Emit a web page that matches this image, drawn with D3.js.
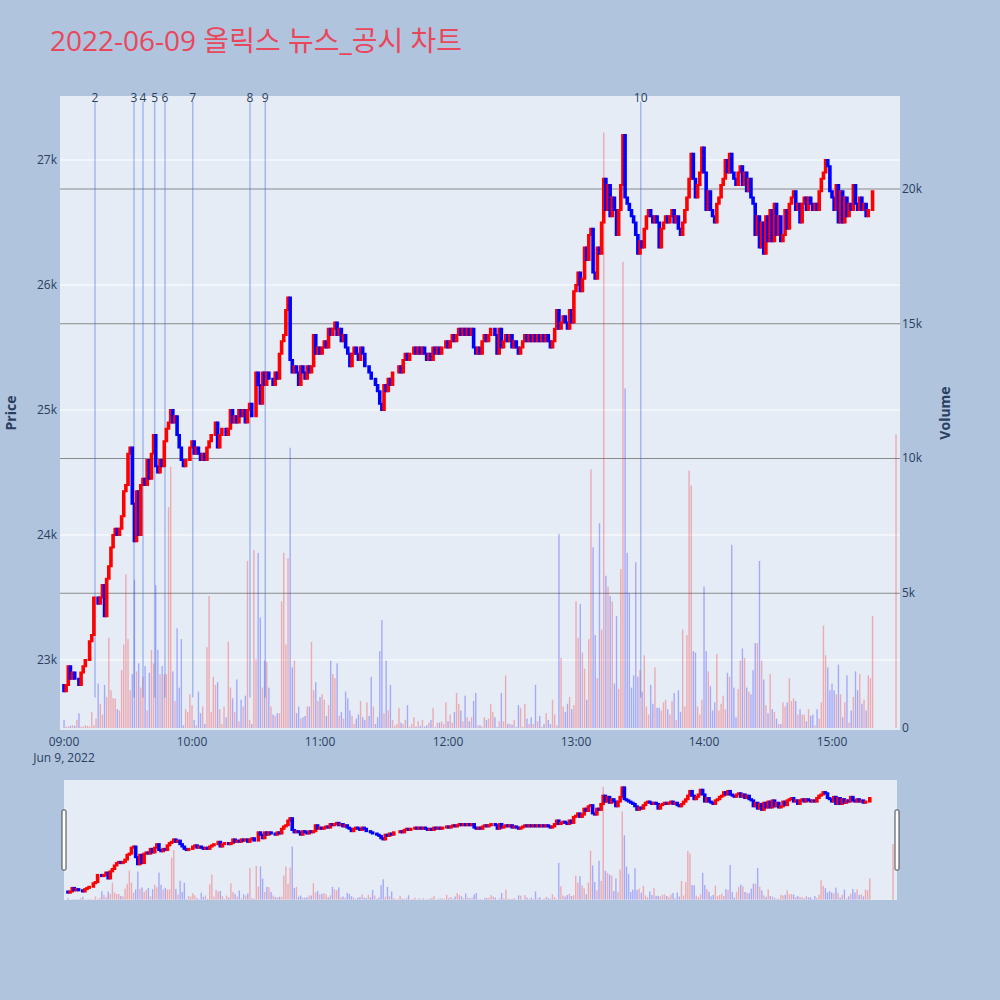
<!DOCTYPE html>
<html>
<head>
<meta charset="utf-8">
<script src="https://cdn.jsdelivr.net/npm/d3@7"></script>
<style>
  html, body { margin: 0; padding: 0; background: #b0c4de; }
  svg { display: block; font-family: "Open Sans", "Noto Sans CJK KR", sans-serif; }
</style>
</head>
<body>
<div id="chart"></div>
<script>
// chart data
const chartTitle = "2022-06-09 올릭스 뉴스_공시 차트";
const sessionDate = "2022-06-09";
const firstOpen = 22800;

// 1-minute closes from 09:00 to 15:19 (open taken as previous close)
const closes = [
  22750,22800,22950,22850,22900,22850,22850,22800,22900,22950,
  23000,23000,23150,23200,23500,23500,23450,23500,23600,23350,
  23650,23750,23900,24000,24050,24000,24050,24150,24350,24400,
  24650,24700,24250,23950,24350,24000,24400,24450,24400,24600,
  24450,24650,24800,24550,24500,24600,24550,24750,24850,24900,
  25000,24900,24950,24800,24700,24600,24550,24600,24600,24700,
  24750,24650,24700,24650,24600,24650,24600,24700,24750,24800,
  24800,24900,24700,24800,24850,24850,24800,24850,25000,24900,
  24950,24900,25000,24950,25000,24900,25000,25050,24950,24950,
  25300,25200,25050,25300,25200,25300,25250,25250,25200,25300,
  25250,25450,25550,25600,25800,25900,25400,25300,25350,25300,
  25200,25350,25300,25250,25350,25300,25350,25600,25450,25500,
  25450,25500,25550,25500,25650,25600,25650,25700,25600,25650,
  25550,25600,25500,25450,25350,25450,25500,25450,25400,25500,
  25450,25350,25350,25300,25250,25250,25200,25150,25050,25000,
  25200,25150,25250,25200,25300,25300,25300,25350,25300,25400,
  25450,25400,25450,25450,25500,25450,25500,25450,25500,25450,
  25400,25450,25400,25500,25450,25500,25450,25500,25500,25550,
  25500,25550,25600,25550,25600,25650,25600,25650,25600,25650,
  25600,25650,25500,25450,25500,25450,25550,25600,25550,25600,
  25650,25650,25600,25450,25650,25500,25550,25600,25550,25600,
  25500,25550,25500,25450,25500,25550,25600,25550,25600,25550,
  25600,25550,25600,25550,25600,25550,25600,25550,25500,25550,
  25650,25800,25650,25700,25750,25700,25650,25800,25700,25950,
  26000,26100,25950,26050,26300,26200,26400,26450,26100,26050,
  26300,26250,26500,26850,26600,26800,26550,26700,26600,26400,
  26600,26800,27200,26700,26650,26600,26550,26500,26400,26250,
  26350,26300,26450,26550,26600,26550,26500,26550,26500,26300,
  26450,26500,26550,26500,26550,26600,26500,26550,26450,26400,
  26500,26600,26700,26850,27050,26850,26700,26800,26900,27100,
  26900,26600,26750,26600,26550,26500,26650,26700,26800,26850,
  27000,26900,27050,26900,26850,26800,26900,26950,26800,26900,
  26750,26850,26700,26650,26400,26550,26300,26500,26250,26550,
  26350,26600,26350,26650,26400,26550,26350,26400,26600,26450,
  26650,26700,26750,26600,26650,26500,26650,26700,26600,26700,
  26650,26600,26650,26600,26750,26850,26900,27000,26950,26750,
  26700,26600,26800,26500,26750,26500,26700,26550,26650,26600,
  26800,26650,26600,26700,26600,26650,26550,26600,26600,26750
];

// 1-minute volumes, same minutes
const volumes = [
  300,50,50,80,100,80,300,550,50,50,
  100,80,50,600,100,350,1650,900,500,1600,
  1150,3350,1400,1100,1100,700,650,2150,3100,5700,
  3300,1400,2000,5500,2100,2400,1500,1900,2300,650,
  2050,2900,2400,5300,2900,2000,2300,2000,2000,8200,
  9700,2100,1000,3700,1500,3300,100,700,600,1250,
  850,300,100,1350,550,800,150,3000,4900,600,
  1900,1600,1700,700,150,800,400,3200,1500,1100,
  600,1800,250,1050,800,1200,6200,300,150,6600,
  2550,6500,4100,1500,2500,2450,1500,800,500,450,
  550,550,4700,6500,3100,6300,10400,2250,2500,550,
  800,350,400,450,800,800,3200,1400,1700,1000,
  1150,1250,1050,450,850,2500,2000,1850,2400,450,
  600,350,1350,1100,650,450,150,350,500,1000,
  400,300,950,450,1900,800,150,400,2850,4000,
  550,2500,650,1600,300,80,150,750,200,150,
  300,850,50,150,400,50,250,80,300,50,
  100,200,300,750,30,200,200,250,150,950,
  250,500,200,600,1300,900,650,250,1200,400,
  250,400,1000,1300,100,100,50,400,300,350,
  900,600,400,30,250,1300,250,1950,150,150,
  120,300,30,850,750,50,900,350,150,400,
  150,1600,250,450,50,150,550,300,150,1050,
  500,100,7200,2600,800,600,900,1150,700,850,
  4700,3350,4600,2800,2200,1050,3300,9600,6700,3450,
  1850,7600,3650,22100,5650,5250,4900,4700,1650,4150,
  1450,5900,17300,12600,6500,5000,1500,1950,6150,1900,
  2150,1350,2700,800,500,1600,900,2250,750,750,
  650,950,1050,700,500,1000,1300,300,1400,600,
  3650,800,3450,9550,9000,2850,2800,800,500,1050,
  5250,2850,2100,1550,650,950,2750,650,900,1200,
  700,2050,1900,6800,1500,400,1450,2500,2950,2600,
  1500,1350,1250,2150,3150,3150,6200,2500,1800,850,
  550,2000,700,600,350,150,150,950,800,950,
  1850,1000,1100,1000,500,700,500,500,250,700,
  450,500,100,700,350,950,3800,2700,2250,1400,
  1650,1400,1250,2350,1250,400,950,1950,200,650,
  1150,2100,1400,2000,900,1050,650,1950,1850,4150
];

// closing auction
const auctionTime = "15:30:00";
const auctionPrice = 26850;
const auctionVolume = 10900;

// news / disclosure markers
const newsLabels = ["2", "3", "4", "5", "6", "7", "8", "9", "10"];
const newsTimes = ["09:14:32", "09:32:49", "09:37:02", "09:42:30", "09:47:20",
                   "10:00:20", "10:27:10", "10:34:20", "13:30:20"];
const newsLineRange = [22700, 27500];

// axis ticks
const priceTicks = [23000, 24000, 25000, 26000, 27000];
const volumeTicks = [0, 5000, 10000, 15000, 20000];
const timeTicks = ["09:00", "10:00", "11:00", "12:00", "13:00", "14:00", "15:00"];

// build candles
const parseT = d3.timeParse("%Y-%m-%d %H:%M:%S");
const t0 = parseT(sessionDate + " 09:00:00");
const n = Math.min(closes.length, volumes.length);
const candles = [];
for (let i = 0; i < n; i++) {
  candles.push({
    t: d3.timeMinute.offset(t0, i),
    o: i === 0 ? firstOpen : closes[i - 1],
    c: closes[i],
    v: volumes[i]
  });
}
candles.push({ t: parseT(sessionDate + " " + auctionTime), o: auctionPrice, c: auctionPrice, v: auctionVolume });

// layout
const W = 1000, H = 1000;
const plot = { l: 60, r: 900, t: 96, b: 730 };
const slider = { l: 64, r: 897, t: 780, b: 900 };
const textColor = "#2a3f5f";
const upColor = "#ff0000", downColor = "#0000ff";

const xDomain = [parseT(sessionDate + " 08:58:07"), parseT(sessionDate + " 15:31:52")];
const priceDomain = [22440, 27512];
const volumeDomain = [-74, 23450];

const x = d3.scaleTime().domain(xDomain).range([plot.l, plot.r]);
const yP = d3.scaleLinear().domain(priceDomain).range([plot.b, plot.t]);
const yV = d3.scaleLinear().domain(volumeDomain).range([plot.b, plot.t]);

const xS = d3.scaleTime().domain(xDomain).range([slider.l, slider.r]);
const yPS = d3.scaleLinear().domain(priceDomain).range([slider.b, slider.t]);
const yVS = d3.scaleLinear().domain(volumeDomain).range([slider.b, slider.t]);

const svg = d3.select("#chart").append("svg")
  .attr("width", W)
  .attr("height", H);

svg.append("rect").attr("width", W).attr("height", H).attr("fill", "#b0c4de");

// title
svg.append("text")
  .attr("x", 50)
  .attr("y", 51)
  .attr("font-size", 28)
  .attr("fill", "#e8475c")
  .text(chartTitle);

// clip paths
const defs = svg.append("defs");
defs.append("clipPath").attr("id", "clipMain")
  .append("rect").attr("x", plot.l).attr("y", plot.t)
  .attr("width", plot.r - plot.l).attr("height", plot.b - plot.t);
defs.append("clipPath").attr("id", "clipSlider")
  .append("rect").attr("x", slider.l).attr("y", slider.t)
  .attr("width", slider.r - slider.l).attr("height", slider.b - slider.t);

// plot background
svg.append("rect")
  .attr("x", plot.l).attr("y", plot.t)
  .attr("width", plot.r - plot.l).attr("height", plot.b - plot.t)
  .attr("fill", "#e5ecf6");

// price gridlines (white)
svg.append("g").selectAll("line")
  .data(priceTicks)
  .enter().append("line")
  .attr("x1", plot.l).attr("x2", plot.r)
  .attr("y1", (d) => yP(d)).attr("y2", (d) => yP(d))
  .attr("stroke", "#ffffff").attr("stroke-width", 1);

// volume gridlines (grey)
svg.append("g").selectAll("line")
  .data(volumeTicks.filter((d) => d > 0))
  .enter().append("line")
  .attr("x1", plot.l).attr("x2", plot.r)
  .attr("y1", (d) => yV(d)).attr("y2", (d) => yV(d))
  .attr("stroke", "#8a8a8a").attr("stroke-width", 1.2);

// draws volume bars + candles on a given set of scales
function drawSeries(g, xs, yp, yv, withNews) {
  g.append("g").selectAll("rect")
    .data(candles)
    .enter().append("rect")
    .attr("x", (d) => xs(d.t) - 0.7)
    .attr("width", 1.4)
    .attr("y", (d) => yv(d.v))
    .attr("height", (d) => Math.max(0, yv(0) - yv(d.v)))
    .attr("fill", (d) => d.c >= d.o ? upColor : downColor)
    .attr("opacity", 0.28);

  if (withNews) {
    g.append("g").selectAll("line")
      .data(newsTimes)
      .enter().append("line")
      .attr("x1", (d) => xs(parseT(sessionDate + " " + d)))
      .attr("x2", (d) => xs(parseT(sessionDate + " " + d)))
      .attr("y1", yp(newsLineRange[1]) + 4)
      .attr("y2", yp(newsLineRange[0]))
      .attr("stroke", "royalblue")
      .attr("stroke-opacity", 0.4)
      .attr("stroke-width", 1.5);
  }

  g.append("g").selectAll("rect")
    .data(candles)
    .enter().append("rect")
    .attr("x", (d) => xs(d.t) - 0.8)
    .attr("width", 1.6)
    .attr("y", (d) => yp(Math.max(d.o, d.c)))
    .attr("height", (d) => Math.abs(yp(d.o) - yp(d.c)))
    .attr("fill", (d) => d.c >= d.o ? upColor : downColor)
    .attr("stroke", (d) => d.c >= d.o ? upColor : downColor)
    .attr("stroke-width", 2);
}

const mainG = svg.append("g").attr("clip-path", "url(#clipMain)");
drawSeries(mainG, x, yP, yV, true);

// news labels
svg.append("g").selectAll("text")
  .data(newsTimes)
  .enter().append("text")
  .attr("x", (d) => x(parseT(sessionDate + " " + d)))
  .attr("y", yP(newsLineRange[1]) + 4)
  .attr("text-anchor", "middle")
  .attr("font-size", 12)
  .attr("fill", textColor)
  .text((d, i) => newsLabels[i]);

// left price axis
const fmtK = d3.format("~s");
svg.append("g").selectAll("text")
  .data(priceTicks)
  .enter().append("text")
  .attr("x", plot.l - 3)
  .attr("y", (d) => yP(d) + 4)
  .attr("text-anchor", "end")
  .attr("font-size", 12)
  .attr("fill", textColor)
  .text((d) => fmtK(d));

// right volume axis
svg.append("g").selectAll("text")
  .data(volumeTicks)
  .enter().append("text")
  .attr("x", plot.r + 2)
  .attr("y", (d) => yV(d) + 4)
  .attr("text-anchor", "start")
  .attr("font-size", 12)
  .attr("fill", textColor)
  .text((d) => fmtK(d));

// x axis labels
const fmtHM = d3.timeFormat("%H:%M");
const fmtDay = d3.timeFormat("%b %-d, %Y");
const xLabels = svg.append("g").selectAll("g")
  .data(timeTicks.map((d) => parseT(sessionDate + " " + d + ":00")))
  .enter().append("g");
xLabels.append("text")
  .attr("x", (d) => x(d))
  .attr("y", plot.b + 16)
  .attr("text-anchor", "middle")
  .attr("font-size", 12)
  .attr("fill", textColor)
  .text((d) => fmtHM(d));
xLabels.filter((d, i) => i === 0).append("text")
  .attr("x", (d) => x(d))
  .attr("y", plot.b + 32)
  .attr("text-anchor", "middle")
  .attr("font-size", 12)
  .attr("fill", textColor)
  .text((d) => fmtDay(d));

// axis titles
svg.append("text")
  .attr("transform", `translate(16, ${(plot.t + plot.b) / 2}) rotate(-90)`)
  .attr("text-anchor", "middle")
  .attr("font-size", 14)
  .attr("font-weight", "bold")
  .attr("fill", textColor)
  .text("Price");
svg.append("text")
  .attr("transform", `translate(950, ${(plot.t + plot.b) / 2}) rotate(-90)`)
  .attr("text-anchor", "middle")
  .attr("font-size", 14)
  .attr("font-weight", "bold")
  .attr("fill", textColor)
  .text("Volume");

// range slider
svg.append("rect")
  .attr("x", slider.l).attr("y", slider.t)
  .attr("width", slider.r - slider.l).attr("height", slider.b - slider.t)
  .attr("fill", "#e5ecf6");
const sliderG = svg.append("g").attr("clip-path", "url(#clipSlider)");
drawSeries(sliderG, xS, yPS, yVS, false);

// slider handles
[slider.l - 2, slider.r - 2].forEach((hx) => {
  svg.append("rect")
    .attr("x", hx).attr("y", 810)
    .attr("width", 4).attr("height", 60)
    .attr("rx", 1)
    .attr("fill", "#ffffff")
    .attr("stroke", "#444444")
    .attr("stroke-width", 1);
});
</script>
</body>
</html>
